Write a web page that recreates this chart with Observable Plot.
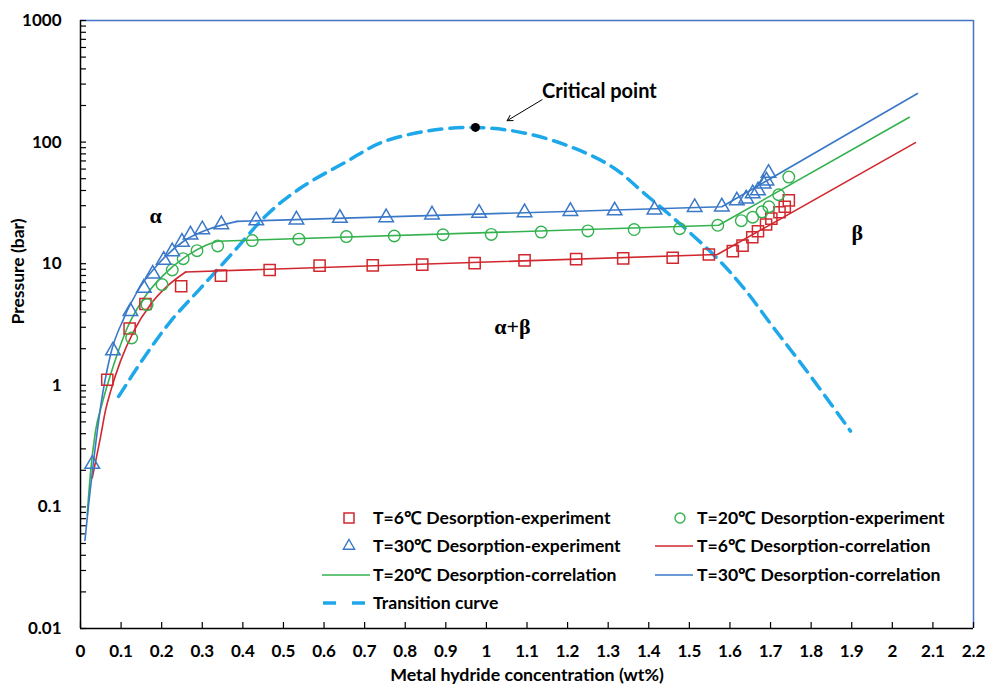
<!DOCTYPE html>
<html><head><meta charset="utf-8">
<script src="https://cdn.jsdelivr.net/npm/d3@7"></script>
<script src="https://cdn.jsdelivr.net/npm/@observablehq/plot@0.6"></script>
<style>
body{margin:0;background:#fff;}
#wrap{position:relative;width:993px;height:690px;font-family:Lato,"Open Sans",sans-serif;}
.leg{position:absolute;font-size:17.6px;font-weight:700;color:#000;white-space:nowrap;line-height:20px;}
#legsvg{position:absolute;left:0;top:0;pointer-events:none;}
</style></head><body><div id="wrap"></div>
<script>
// ---- tick labels ----
const xTicks = [0,0.1,0.2,0.3,0.4,0.5,0.6,0.7,0.8,0.9,1,1.1,1.2,1.3,1.4,1.5,1.6,1.7,1.8,1.9,2,2.1,2.2];
const yTicks = [0.01,0.1,1,10,100,1000];
const yTickLabels = ["0.01","0.1","1","10","100","1000"];

// ---- experimental data: [concentration wt%, pressure bar] ----
const exp6 = [[0.066,1.11],[0.121,2.93],[0.16,4.66],[0.248,6.52],[0.346,7.98],[0.466,8.88],[0.589,9.65],[0.72,9.7],[0.842,9.83],[0.971,10.1],[1.094,10.66],[1.221,10.9],[1.337,11.05],[1.459,11.2],[1.548,11.9],[1.607,12.7],[1.631,14.1],[1.655,16.5],[1.669,18.5],[1.689,21],[1.702,23.5],[1.722,26.5],[1.735,29.4],[1.745,33.2]];
const exp20 = [[0.126,2.45],[0.164,4.6],[0.201,6.73],[0.226,8.88],[0.253,11.0],[0.287,12.8],[0.338,14.0],[0.423,15.5],[0.538,15.9],[0.655,16.7],[0.773,16.9],[0.893,17.3],[1.012,17.4],[1.135,18.2],[1.25,18.6],[1.364,19.1],[1.476,19.4],[1.57,20.7],[1.628,22.6],[1.656,24.1],[1.679,26.7],[1.696,29.4],[1.72,36.9],[1.745,51.6]];
const exp30 = [[0.029,0.225],[0.08,1.93],[0.123,4.06],[0.156,6.31],[0.178,8.24],[0.205,10.7],[0.226,12.6],[0.25,15.1],[0.271,17.3],[0.3,19.1],[0.347,21.0],[0.433,22.6],[0.532,23.0],[0.639,23.7],[0.753,24.0],[0.866,25.3],[0.982,26.1],[1.094,26.4],[1.207,27.0],[1.316,27.3],[1.414,27.8],[1.513,29.1],[1.58,29.4],[1.617,33],[1.64,34.2],[1.656,37.7],[1.669,39.9],[1.683,45.3],[1.69,48.1],[1.695,55.6]];

// ---- correlation curves: alpha-phase (curved) part and plateau + beta (straight) part ----
const cor6Alpha = [[0.029,0.173],[0.049,0.37],[0.062,0.63],[0.074,0.89],[0.0985,1.58],[0.131,2.78],[0.172,4.6],[0.213,6.5],[0.259,8.55]];
const cor6Rest = [[0.259,8.55],[1.569,11.9],[2.057,99]];
const cor20Alpha = [[0.0165,0.086],[0.025,0.196],[0.037,0.42],[0.053,0.7],[0.082,1.48],[0.115,2.96],[0.156,5.2],[0.205,8.1],[0.254,11.1],[0.312,14.3],[0.337,15.3]];
const cor20Rest = [[0.337,15.3],[1.572,20.7],[2.042,160]];
const cor30Alpha = [[0.011,0.053],[0.020,0.105],[0.033,0.25],[0.049,0.65],[0.074,1.79],[0.107,3.57],[0.148,6.5],[0.197,10.4],[0.254,15.3],[0.312,19.0],[0.386,22.3]];
const cor30Rest = [[0.386,22.3],[1.58,29.4],[2.062,251]];

// ---- transition curve & critical point ----
const transition = [[0.094,0.81],[0.156,1.68],[0.222,3.36],[0.296,6.3],[0.378,12.6],[0.46,25.4],[0.542,41.9],[0.657,69.6],[0.739,98.5],[0.846,122],[0.969,132],[1.092,119],[1.215,89.5],[1.314,61.3],[1.388,38.1],[1.47,22.3],[1.568,11.1],[1.634,6.3],[1.708,2.96],[1.79,1.3],[1.897,0.42]];
const critical = [[0.973,132]];
const arrowSeg = [{x1:1.137,y1:223,x2:1.051,y2:150}];
const criticalLabel = [{x:1.137,y:262,text:"Critical point"}];
const phaseLabels = [{x:0.185,y:24.6,text:"α"},{x:1.914,y:17.8,text:"β"},{x:1.064,y:3.0,text:"α+β"}];

const C = {r:"#d0282e", g:"#34b24f", b:"#3a78c8", t:"#1ea8ea", frame:"#4472c4"};

// minor tick positions for log axis
const minorTicks = [];
for (let e = -2; e < 3; e++) for (let k = 1; k <= 9; k++) minorTicks.push(k * Math.pow(10, e));
minorTicks.push(1000);

const P = d => d[0], Q = d => d[1];
const chart = Plot.plot({
  width: 993, height: 690,
  marginLeft: 80, marginRight: 20, marginTop: 20, marginBottom: 62,
  style: {fontFamily: "Lato, 'Open Sans', sans-serif", fontSize: "17px", fontWeight: 700, background: "white", color: "#000"},
  x: {domain: [0, 2.2]},
  y: {type: "log", domain: [0.01, 1000]},
  marks: [
    Plot.ruleY([1000], {stroke: C.frame, strokeWidth: 1.5}),
    Plot.ruleX([2.2], {stroke: C.frame, strokeWidth: 1.5}),
    Plot.tickY(minorTicks, {y: d => d, insetRight: 887, stroke: "#000", strokeWidth: 1.2}),
    Plot.tickX(xTicks, {x: d => d, insetTop: 602, stroke: "#000", strokeWidth: 1.2}),
    Plot.axisY({ticks: yTicks, tickSize: 0, tickPadding: 19, tickFormat: d => yTickLabels[yTicks.indexOf(d)], label: null, fontWeight: 700, fontSize: 17}),
    Plot.axisX({ticks: xTicks, tickSize: 0, tickPadding: 16, tickFormat: d => String(d), label: null, fontWeight: 700, fontSize: 17}),
    Plot.ruleX([0], {stroke: "#000", strokeWidth: 1.5}),
    Plot.ruleY([0.01], {stroke: "#000", strokeWidth: 1.5}),
    Plot.line(transition, {x: P, y: Q, stroke: C.t, strokeWidth: 3.5, strokeDasharray: "13,8", curve: "catmull-rom"}),
    Plot.line(cor6Alpha, {x: P, y: Q, stroke: C.r, strokeWidth: 1.6, curve: "monotone-x"}),
    Plot.line(cor6Rest, {x: P, y: Q, stroke: C.r, strokeWidth: 1.6}),
    Plot.line(cor20Alpha, {x: P, y: Q, stroke: C.g, strokeWidth: 1.6, curve: "monotone-x"}),
    Plot.line(cor20Rest, {x: P, y: Q, stroke: C.g, strokeWidth: 1.6}),
    Plot.line(cor30Alpha, {x: P, y: Q, stroke: C.b, strokeWidth: 1.6, curve: "monotone-x"}),
    Plot.line(cor30Rest, {x: P, y: Q, stroke: C.b, strokeWidth: 1.6}),
    Plot.dot(exp6, {x: P, y: Q, symbol: "square", r: 6.3, stroke: C.r, strokeWidth: 1.5, fill: "none"}),
    Plot.dot(exp20, {x: P, y: Q, symbol: "circle", r: 5.8, stroke: C.g, strokeWidth: 1.4, fill: "none"}),
    Plot.dot(exp30, {x: P, y: Q, symbol: "triangle", r: 5.4, stroke: C.b, strokeWidth: 1.5, fill: "none"}),
    Plot.dot(critical, {x: P, y: Q, r: 4.5, fill: "#000"}),
    Plot.arrow(arrowSeg, {x1: "x1", y1: "y1", x2: "x2", y2: "y2", stroke: "#000", strokeWidth: 1, headLength: 9}),
    Plot.text(criticalLabel, {x: "x", y: "y", text: "text", textAnchor: "start", fontSize: 20, fontWeight: 700}),
    Plot.text(phaseLabels, {x: "x", y: "y", text: "text", fontSize: 22, fontWeight: 700, fontFamily: "'Liberation Serif', serif"}),
    Plot.text(["Pressure (bar)"], {frameAnchor: "left", dx: -62, rotate: -90, fontSize: 17.5, fontWeight: 700}),
    Plot.text(["Metal hydride concentration (wt%)"], {frameAnchor: "bottom", dy: 52, fontSize: 17.8, fontWeight: 700})
  ]
});
const wrap = document.getElementById("wrap");
wrap.appendChild(chart);

// ---- legend ----
const legendItems = [
  {kind: "square", color: C.r, sx: 349, y: 518, tx: 373, label: "T=6℃ Desorption-experiment"},
  {kind: "circle", color: C.g, sx: 680, y: 518, tx: 697, label: "T=20℃ Desorption-experiment"},
  {kind: "triangle", color: C.b, sx: 349, y: 546, tx: 373, label: "T=30℃ Desorption-experiment"},
  {kind: "line", color: C.r, sx: 655, ex: 693, y: 546, tx: 697, label: "T=6℃ Desorption-correlation"},
  {kind: "line", color: C.g, sx: 322, ex: 370, y: 575, tx: 373, label: "T=20℃ Desorption-correlation"},
  {kind: "line", color: C.b, sx: 655, ex: 693, y: 575, tx: 697, label: "T=30℃ Desorption-correlation"},
  {kind: "dash", color: C.t, sx: 323, ex: 365, y: 603, tx: 373, label: "Transition curve"}
];
const svg = d3.select(wrap).append("svg").attr("id", "legsvg").attr("width", 993).attr("height", 690);
for (const it of legendItems) {
  if (it.kind === "square") svg.append("rect").attr("x", it.sx - 5).attr("y", it.y - 5).attr("width", 10).attr("height", 10).attr("fill", "none").attr("stroke", it.color).attr("stroke-width", 1.5);
  else if (it.kind === "circle") svg.append("circle").attr("cx", it.sx).attr("cy", it.y).attr("r", 5).attr("fill", "none").attr("stroke", it.color).attr("stroke-width", 1.4);
  else if (it.kind === "triangle") svg.append("path").attr("d", d3.symbol(d3.symbolTriangle, 55)()).attr("transform", `translate(${it.sx},${it.y})`).attr("fill", "none").attr("stroke", it.color).attr("stroke-width", 1.4);
  else if (it.kind === "line") svg.append("line").attr("x1", it.sx).attr("x2", it.ex).attr("y1", it.y).attr("y2", it.y).attr("stroke", it.color).attr("stroke-width", 1.6);
  else svg.append("line").attr("x1", it.sx).attr("x2", it.ex).attr("y1", it.y).attr("y2", it.y).attr("stroke", it.color).attr("stroke-width", 3.5).attr("stroke-dasharray", "13,16");
  const d = document.createElement("div");
  d.className = "leg"; d.textContent = it.label;
  d.style.left = it.tx + "px"; d.style.top = (it.y - 10) + "px";
  wrap.appendChild(d);
}
</script></body></html>
